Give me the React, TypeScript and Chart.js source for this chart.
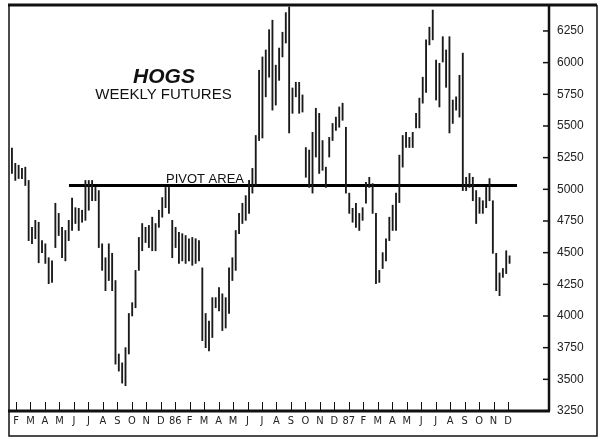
import { useEffect, useRef } from "react";
import { Chart, registerables } from "chart.js";

Chart.register(...registerables);

// Month tick labels, months since Jan 1985 (Feb 85 = 1 ... Dec 87 = 35)
const monthLabels = [
  "F", "M", "A", "M", "J", "J", "A", "S", "O", "N", "D", "86",
  "F", "M", "A", "M", "J", "J", "A", "S", "O", "N", "D", "87",
  "F", "M", "A", "M", "J", "J", "A", "S", "O", "N", "D",
];

const priceTicks = [3250, 3500, 3750, 4000, 4250, 4500, 4750, 5000, 5250, 5500, 5750, 6000, 6250];

// Weekly bars (first week ~ late Jan 1985)
const firstWeekMonth = 0.72;

const weeklyHigh = [
  5325, 5205, 5190, 5165, 5175, 5070, 4700, 4755, 4740, 4595,
  4570, 4460, 4435, 4890, 4810, 4700, 4675, 4755, 4930, 4855,
  4850, 4835, 5070, 5070, 5070, 5015, 4990, 4570, 4460, 4570,
  4495, 4280, 3700, 3630, 3750, 4020, 4105, 4360, 4620, 4730,
  4700, 4715, 4780, 4730, 4835, 4935, 5015, 5015, 4755, 4700,
  4660, 4650, 4635, 4610, 4620, 4610, 4595, 4380, 4020, 3960,
  4145, 4145, 4225, 4175, 4145, 4380, 4460, 4675, 4810, 4890,
  4950, 5070, 5165, 5425, 5940, 6045, 6100, 6260, 6335, 5980,
  6115, 6240, 6395, 6440, 5800, 5845, 5845, 5745, 5330, 5310,
  5450, 5640, 5600, 5385, 5175, 5410, 5520, 5570, 5650, 5680,
  5490, 4970, 4850, 4890, 4810, 4855, 5055, 5095, 5045, 4810,
  4360, 4500, 4610, 4780, 4875, 4970, 5270, 5425, 5450, 5410,
  5450, 5600, 5720, 5885, 6180, 6280, 6415, 6020, 5995, 6205,
  6100, 6205, 5705, 5730, 5900, 6075, 5095, 5125, 5095, 4990,
  4935, 4910, 5015, 5085, 4910, 4495, 4340, 4375, 4515, 4475,
];

const weeklyLow = [
  5125, 5070, 5085, 5085, 5030, 4595, 4570, 4610, 4420, 4500,
  4415, 4255, 4265, 4540, 4635, 4460, 4435, 4595, 4675, 4730,
  4675, 4740, 4755, 4835, 4910, 4910, 4540, 4360, 4200, 4280,
  4200, 3620, 3565, 3470, 3450, 3700, 4000, 4065, 4360, 4515,
  4580, 4540, 4515, 4515, 4700, 4780, 4855, 4810, 4460, 4540,
  4415, 4435, 4415, 4435, 4400, 4415, 4435, 3805, 3750, 3725,
  3830, 4065, 4040, 3885, 3905, 4020, 4280, 4360, 4650, 4730,
  4755, 4810, 4970, 5030, 5385, 5405, 5730, 5885, 5625, 5665,
  5860, 6045, 6155, 5445, 5600, 5730, 5600, 5610, 5095, 5015,
  4970, 5255, 5125, 5150, 5015, 5255, 5385, 5465, 5490, 5545,
  4970, 4810, 4740, 4700, 4675, 4755, 4890, 5015, 4810, 4255,
  4265, 4375, 4435, 4595, 4675, 4675, 4895, 5175, 5330, 5330,
  5330, 5485, 5485, 5680, 5765, 6140, 6180, 5705, 5650, 6005,
  5805, 5445, 5520, 5625, 5570, 4990, 4990, 5015, 4910, 4730,
  4810, 4810, 4855, 4910, 4495, 4200, 4160, 4305, 4335, 4415,
];

const pivotLevel = 5030;
const pivotStartMonth = 4.66;
const pivotEndMonth = 35.62;

const titleText = "HOGS";
const subtitleText = "WEEKLY FUTURES";
const pivotText = "PIVOT AREA";

export default function App() {
  const ref = useRef<HTMLCanvasElement>(null);

  useEffect(() => {
    if (!ref.current) return;
    const weekStep = 12 / 52;
    const bars = weeklyHigh.map((h, i) => ({
      x: firstWeekMonth + i * weekStep,
      y: [weeklyLow[i], h],
    }));

    const framePlugin = {
      id: "frame",
      afterDraw(chart: any) {
        const ctx = chart.ctx as CanvasRenderingContext2D;
        const area = chart.chartArea;
        const xs = chart.scales.x;
        const ys = chart.scales.y;
        ctx.save();
        ctx.strokeStyle = "#111";
        ctx.fillStyle = "#111";
        // outer frame
        ctx.lineWidth = 1.5;
        ctx.beginPath();
        ctx.moveTo(area.left + 1, area.top);
        ctx.lineTo(area.left + 1, 436);
        ctx.lineTo(597, 436);
        ctx.lineTo(597, area.top);
        ctx.stroke();
        ctx.lineWidth = 3;
        ctx.beginPath();
        ctx.moveTo(area.left, area.top);
        ctx.lineTo(597, area.top);
        ctx.stroke();
        // axis lines
        ctx.lineWidth = 3;
        ctx.beginPath();
        ctx.moveTo(area.left, area.bottom);
        ctx.lineTo(area.right + 1, area.bottom);
        ctx.stroke();
        ctx.lineWidth = 2.5;
        ctx.beginPath();
        ctx.moveTo(area.right, area.top);
        ctx.lineTo(area.right, area.bottom);
        ctx.stroke();
        // inward ticks
        ctx.lineWidth = 1;
        monthLabels.forEach((_, i) => {
          const px = Math.round(xs.getPixelForValue(i + 1)) + 0.5;
          ctx.beginPath();
          ctx.moveTo(px, area.bottom);
          ctx.lineTo(px, area.bottom - 9);
          ctx.stroke();
        });
        ctx.lineWidth = 1.5;
        priceTicks.forEach((v) => {
          const py = ys.getPixelForValue(v);
          ctx.beginPath();
          ctx.moveTo(area.right, py);
          ctx.lineTo(area.right - 6, py);
          ctx.stroke();
        });
        // titles
        ctx.textAlign = "center";
        ctx.textBaseline = "alphabetic";
        ctx.font = "italic bold 21px 'Liberation Sans', Arial, sans-serif";
        ctx.fillText(titleText, 164, 83);
        ctx.font = "15px 'Liberation Sans', Arial, sans-serif";
        ctx.fillText(subtitleText, 163.5, 99);
        ctx.font = "13px 'Liberation Sans', Arial, sans-serif";
        ctx.fillText(pivotText, 205, ys.getPixelForValue(pivotLevel) - 3);
        ctx.restore();
      },
    };

    const chart = new Chart(ref.current, {
      type: "bar",
      data: {
        datasets: [
          {
            type: "bar",
            data: bars as any,
            backgroundColor: "#1a1a1a",
            barThickness: 1.2,
            grouped: false,
          } as any,
          {
            type: "line",
            data: [
              { x: pivotStartMonth, y: pivotLevel },
              { x: pivotEndMonth, y: pivotLevel },
            ],
            borderColor: "#000",
            borderWidth: 3,
            pointRadius: 0,
          } as any,
        ],
      },
      options: {
        responsive: false,
        maintainAspectRatio: false,
        animation: false,
        layout: { padding: { left: 8, top: 5, right: 0, bottom: 0 } },
        plugins: { legend: { display: false }, tooltip: { enabled: false } },
        scales: {
          x: {
            type: "linear",
            min: 0.447,
            max: 37.83,
            offset: false,
            grid: { display: false, drawTicks: false },
            border: { display: false },
            afterBuildTicks: (s: any) => {
              s.ticks = monthLabels.map((_, i) => ({ value: i + 1 }));
            },
            afterFit: (s: any) => {
              s.height = 29;
              s.paddingLeft = 0;
              s.paddingRight = 0;
            },
            ticks: {
              autoSkip: false,
              maxRotation: 0,
              minRotation: 0,
              padding: 4,
              color: "#222",
              font: { family: "'Liberation Sans Narrow', 'DejaVu Sans Condensed', sans-serif", size: 11 },
              callback: (v: any) => monthLabels[Math.round(Number(v)) - 1] ?? "",
            },
          },
          y: {
            position: "right",
            min: 3250,
            max: 6455,
            grid: { display: false, drawTicks: false },
            border: { display: false },
            afterBuildTicks: (s: any) => {
              s.ticks = priceTicks.map((v) => ({ value: v }));
            },
            afterFit: (s: any) => {
              s.width = 51;
              s.paddingTop = 0;
              s.paddingBottom = 0;
            },
            ticks: {
              padding: 8,
              color: "#222",
              font: { family: "'Liberation Sans', Arial, sans-serif", size: 12 },
              callback: (v: any) => String(v),
            },
          },
        },
      } as any,
      plugins: [framePlugin],
    });
    return () => chart.destroy();
  }, []);

  return (
    <div style={{ position: "fixed", left: 0, top: 0, width: 600, height: 440, background: "#fff" }}>
      <canvas ref={ref} width={600} height={440} style={{ display: "block", width: 600, height: 440 }} />
    </div>
  );
}
